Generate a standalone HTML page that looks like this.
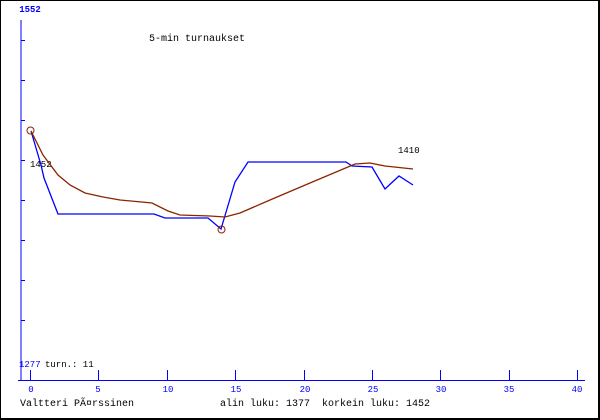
<!DOCTYPE html>
<html><head><meta charset="utf-8"><style>
html,body{margin:0;padding:0;background:#fff;}
svg{display:block;font-family:"Liberation Mono",monospace;}
</style></head><body>
<svg width="600" height="420" xmlns="http://www.w3.org/2000/svg" shape-rendering="crispEdges">
<rect x="0.5" y="0.5" width="599" height="419" fill="#fff" stroke="#000" stroke-width="1"/>
<rect x="598" y="0" width="2" height="420" fill="#000"/>
<rect x="0" y="418" width="600" height="2" fill="#000"/>
<g stroke="#0000ff" stroke-width="1">
<line x1="21" y1="20" x2="21" y2="381"/>
<line x1="18" y1="380.5" x2="585" y2="380.5"/>
<line x1="21" y1="40.5" x2="25" y2="40.5"/>
<line x1="21" y1="80.5" x2="25" y2="80.5"/>
<line x1="21" y1="120.5" x2="25" y2="120.5"/>
<line x1="21" y1="160.5" x2="25" y2="160.5"/>
<line x1="21" y1="200.5" x2="25" y2="200.5"/>
<line x1="21" y1="240.5" x2="25" y2="240.5"/>
<line x1="21" y1="280.5" x2="25" y2="280.5"/>
<line x1="21" y1="320.5" x2="25" y2="320.5"/>
<line x1="30.5" y1="370" x2="30.5" y2="380"/>
<line x1="98.5" y1="370" x2="98.5" y2="380"/>
<line x1="167.5" y1="370" x2="167.5" y2="380"/>
<line x1="235.5" y1="370" x2="235.5" y2="380"/>
<line x1="304.5" y1="370" x2="304.5" y2="380"/>
<line x1="372.5" y1="370" x2="372.5" y2="380"/>
<line x1="440.5" y1="370" x2="440.5" y2="380"/>
<line x1="509.5" y1="370" x2="509.5" y2="380"/>
<line x1="577.5" y1="370" x2="577.5" y2="380"/>
</g>
<g fill="#0000ff" font-size="9" text-anchor="middle">
<text x="31" y="392">0</text><text x="98" y="392">5</text><text x="168" y="392">10</text>
<text x="236" y="392">15</text><text x="305" y="392">20</text><text x="373" y="392">25</text>
<text x="441" y="392">30</text><text x="509" y="392">35</text><text x="577" y="392">40</text>
<text x="30" y="12" font-weight="bold">1552</text>
</g>
<text x="19" y="367" fill="#0000ff" font-size="9">1277</text>
<text x="45" y="367" fill="#000" font-size="9">turn.: 11</text>
<text x="149" y="41" font-size="10" fill="#000">5-min turnaukset</text>
<text x="30" y="167" font-size="9" fill="#000">1452</text>
<text x="398" y="153" font-size="9" fill="#000">1410</text>
<text x="20" y="406" font-size="10" fill="#000">Valtteri PÃ¤rssinen</text>
<text x="220" y="406" font-size="10" fill="#000" xml:space="preserve">alin luku: 1377  korkein luku: 1452</text>
<g fill="none" shape-rendering="auto">
<polyline stroke="#0000ff" stroke-width="1.3" points="31,131 41,165 44,178 58,214 154,214 165,218 208,218 221,229 235,182 248,162 346,162 352,166 372,167 385,189 399,176 413,185"/>
<polyline stroke="#8b2500" stroke-width="1.3" points="31,131 43,155 58,175 70,185 85,193 103,197 120,200 152,203 168,211 180,215 210,216 225,217 240,213 270,200 310,183 355,164 370,163 385,166 413,169"/>
<circle cx="30.5" cy="130.5" r="3.5" stroke="#8b2500" stroke-width="1"/>
<circle cx="221.5" cy="229.5" r="3.5" stroke="#8b2500" stroke-width="1"/>
</g>
</svg>
</body></html>
